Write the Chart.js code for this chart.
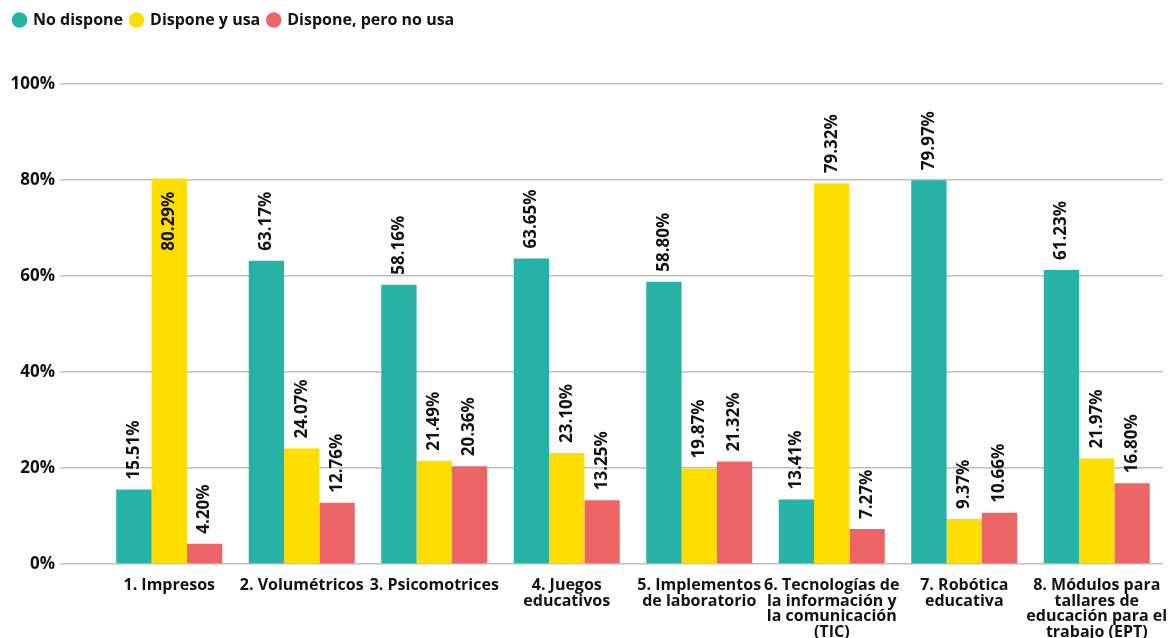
<!DOCTYPE html>
<html>
<head>
<meta charset="utf-8">
<script src="https://cdn.jsdelivr.net/npm/chart.js@4.4.1/dist/chart.umd.min.js"></script>
<style>
  html, body { margin: 0; padding: 0; background: #fff; overflow: hidden; }
  #wrap { width: 1173px; height: 654px; }
</style>
</head>
<body>
<div id="wrap"><canvas id="chart"></canvas></div>
<script>
const categories = [
  '1. Impresos',
  '2. Volumétricos',
  '3. Psicomotrices',
  ['4. Juegos', 'educativos'],
  ['5. Implementos', 'de laboratorio'],
  ['6. Tecnologías de', 'la información y', 'la comunicación', '(TIC)'],
  ['7. Robótica', 'educativa'],
  ['8. Módulos para', 'tallares de', 'educación para el', 'trabajo (EPT)']
];
const noDispone = [15.51, 63.17, 58.16, 63.65, 58.80, 13.41, 79.97, 61.23];
const disponeUsa = [80.29, 24.07, 21.49, 23.10, 19.87, 79.32, 9.37, 21.97];
const disponeNoUsa = [4.20, 12.76, 20.36, 13.25, 21.32, 7.27, 10.66, 16.80];
const yTicks = [0, 20, 40, 60, 80, 100];

const FONT = '"Open Sans", Lato, sans-serif';

// vertical value labels above each bar (inside the bar when it passes the 80% line)
const barLabels = {
  id: 'barLabels',
  afterDatasetsDraw(chart) {
    const ctx = chart.ctx;
    ctx.save();
    ctx.font = 'bold 17px ' + FONT;
    ctx.fillStyle = '#111';
    ctx.textBaseline = 'middle';
    chart.data.datasets.forEach((ds, i) => {
      chart.getDatasetMeta(i).data.forEach((bar, j) => {
        const v = ds.data[j];
        const text = v.toFixed(2) + '%';
        ctx.save();
        ctx.translate(bar.x, bar.y);
        ctx.rotate(-Math.PI / 2);
        if (v > 80) {
          ctx.textAlign = 'right';
          ctx.fillText(text, -13, 0);
        } else {
          ctx.textAlign = 'left';
          ctx.fillText(text, 10, 0);
        }
        ctx.restore();
      });
    });
    ctx.restore();
  }
};

// extra room under the legend
const legendSpace = {
  id: 'legendSpace',
  beforeInit(chart) {
    const fit = chart.legend.fit;
    chart.legend.fit = function () {
      fit.bind(chart.legend)();
      this.height += 46;
    };
  }
};

new Chart(document.getElementById('chart'), {
  type: 'bar',
  data: {
    labels: categories,
    datasets: [
      { label: 'No dispone', data: noDispone, backgroundColor: '#26B2A7' },
      { label: 'Dispone y usa', data: disponeUsa, backgroundColor: '#FFDD00' },
      { label: 'Dispone, pero no usa', data: disponeNoUsa, backgroundColor: '#EB6566' }
    ]
  },
  options: {
    responsive: true,
    maintainAspectRatio: false,
    animation: false,
    layout: { padding: { left: 6, right: 0, top: 4, bottom: 0 } },
    datasets: { bar: { categoryPercentage: 0.8, barPercentage: 1.0 } },
    plugins: {
      legend: {
        position: 'top',
        align: 'start',
        labels: {
          usePointStyle: true,
          pointStyle: 'circle',
          boxWidth: 11,
          boxHeight: 11,
          padding: 8,
          color: '#111',
          font: { family: FONT, size: 16, weight: 'bold' }
        }
      },
      tooltip: { enabled: false }
    },
    scales: {
      x: {
        afterFit: (scale) => { scale.paddingLeft = 0; scale.paddingRight = 10; },
        grid: { display: false, drawTicks: false },
        border: { display: false },
        ticks: {
          color: '#111',
          padding: 14,
          maxRotation: 0,
          autoSkip: false,
          font: { family: FONT, size: 16, weight: 'bold', lineHeight: 0.97 }
        }
      },
      y: {
        min: 0,
        max: 100,
        afterFit: (scale) => { scale.width = 97; },
        afterBuildTicks: (scale) => { scale.ticks = yTicks.map(v => ({ value: v })); },
        grid: { color: '#BFBFBF', lineWidth: 1.5, tickLength: 43 },
        border: { display: false },
        ticks: {
          color: '#111',
          padding: 5,
          font: { family: FONT, size: 17, weight: 'bold' },
          callback: (v) => v + '%'
        }
      }
    }
  },
  plugins: [barLabels, legendSpace]
});
</script>
</body>
</html>
